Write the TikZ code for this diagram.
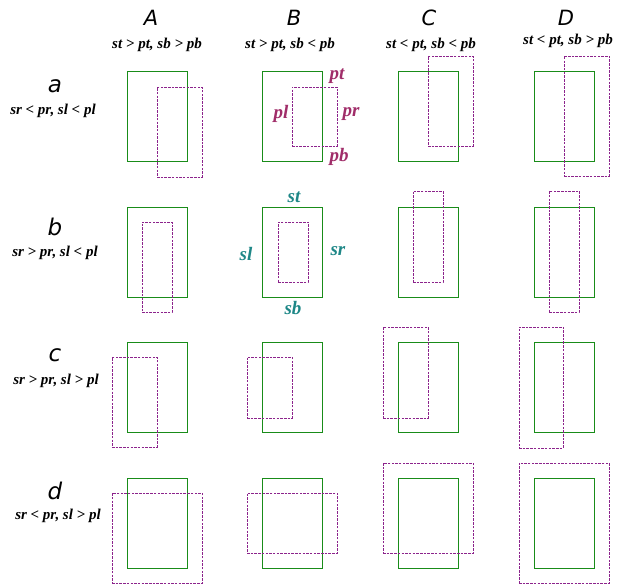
\documentclass[tikz,border=0pt]{standalone}
\usepackage{fontspec}
\setmainfont{Liberation Serif}
\newfontfamily\hdrfont{DejaVu Sans}
\usetikzlibrary{fit}
\definecolor{sgreen}{RGB}{25,140,25}
\definecolor{ppurple}{RGB}{140,35,140}
\definecolor{pmag}{RGB}{160,45,105}
\definecolor{steal}{RGB}{30,135,135}
\tikzset{
  sbox/.style={draw=sgreen, line width=0.9pt, inner sep=0pt, outer sep=0pt},
  pbox/.style={draw=ppurple, line width=0.9pt, dash pattern=on 2.5pt off 1.2pt, inner sep=0pt, outer sep=0pt},
  colhdr/.style={font=\hdrfont\itshape\fontsize{21}{21}\selectfont, inner sep=0pt},
  rowhdr/.style={font=\hdrfont\itshape\fontsize{23}{23}\selectfont, inner sep=0pt},
  cond/.style={font=\bfseries\itshape\fontsize{15}{15}\selectfont, inner sep=0pt},
  plab/.style={font=\bfseries\itshape\fontsize{19}{19}\selectfont, text=pmag, inner sep=0pt},
  slab/.style={font=\bfseries\itshape\fontsize{19}{19}\selectfont, text=steal, inner sep=0pt},
}
\begin{document}
\begin{tikzpicture}[x=1pt,y=-1pt]
\useasboundingbox (0,0) rectangle (622,588);
% column headers
\node[colhdr] (hA) at (151,18) {A};
\node[colhdr] (hB) at (294,18) {B};
\node[colhdr] (hC) at (429,18) {C};
\node[colhdr] (hD) at (566,18) {D};
\node[cond] (cA) at (157,45) {st > pt, sb > pb};
\node[cond] (cB) at (290,45) {st > pt, sb < pb};
\node[cond] (cC) at (431,45) {st < pt, sb < pb};
\node[cond] (cD) at (568,41) {st < pt, sb > pb};
% row headers
\node[rowhdr] (ra) at (55,86) {a};
\node[rowhdr] (rb) at (55,227) {b};
\node[rowhdr] (rc) at (55,355) {c};
\node[rowhdr] (rd) at (55,491) {d};
\node[cond] (ca) at (53,111) {sr < pr, sl < pl};
\node[cond] (cb) at (55,253) {sr > pr, sl < pl};
\node[cond] (cc) at (56,381) {sr > pr, sl > pl};
\node[cond] (cd) at (58,516) {sr < pr, sl > pl};
% green boxes
\foreach \c/\x in {A/127,B/262,C/398,D/534}{
  \foreach \r/\y in {a/71,b/207,c/342,d/478}{
    \node[sbox, fit={(\x,\y) (\x+60,\y+90)}] (s\r\c) {};
  }
}
% purple dashed boxes
\node[pbox, fit={(157,87) (202,177)}] (paA) {};
\node[pbox, fit={(292,87) (337,146)}] (paB) {};
\node[pbox, fit={(428,56) (473,146)}] (paC) {};
\node[pbox, fit={(564,56) (609,176)}] (paD) {};
\node[pbox, fit={(142,222) (172,312)}] (pbA) {};
\node[pbox, fit={(278,222) (308,282)}] (pbB) {};
\node[pbox, fit={(413,191) (443,282)}] (pbC) {};
\node[pbox, fit={(549,191) (579,312)}] (pbD) {};
\node[pbox, fit={(112,357) (157,447)}] (pcA) {};
\node[pbox, fit={(247,357) (292,418)}] (pcB) {};
\node[pbox, fit={(383,327) (428,418)}] (pcC) {};
\node[pbox, fit={(519,327) (563,448)}] (pcD) {};
\node[pbox, fit={(112,493) (202,583)}] (pdA) {};
\node[pbox, fit={(247,493) (337,553)}] (pdB) {};
\node[pbox, fit={(383,463) (473,553)}] (pdC) {};
\node[pbox, fit={(519,463) (609,583)}] (pdD) {};
% labels
\node[plab] (lpt) at (337,76) {pt};
\node[plab] (lpl) at (281,114) {pl};
\node[plab] (lpr) at (351,114) {pr};
\node[plab] (lpb) at (339,157) {pb};
\node[slab] (lst) at (294,197) {st};
\node[slab] (lsl) at (246,254) {sl};
\node[slab] (lsr) at (338,251) {sr};
\node[slab] (lsb) at (293,308) {sb};
\end{tikzpicture}
\end{document}
